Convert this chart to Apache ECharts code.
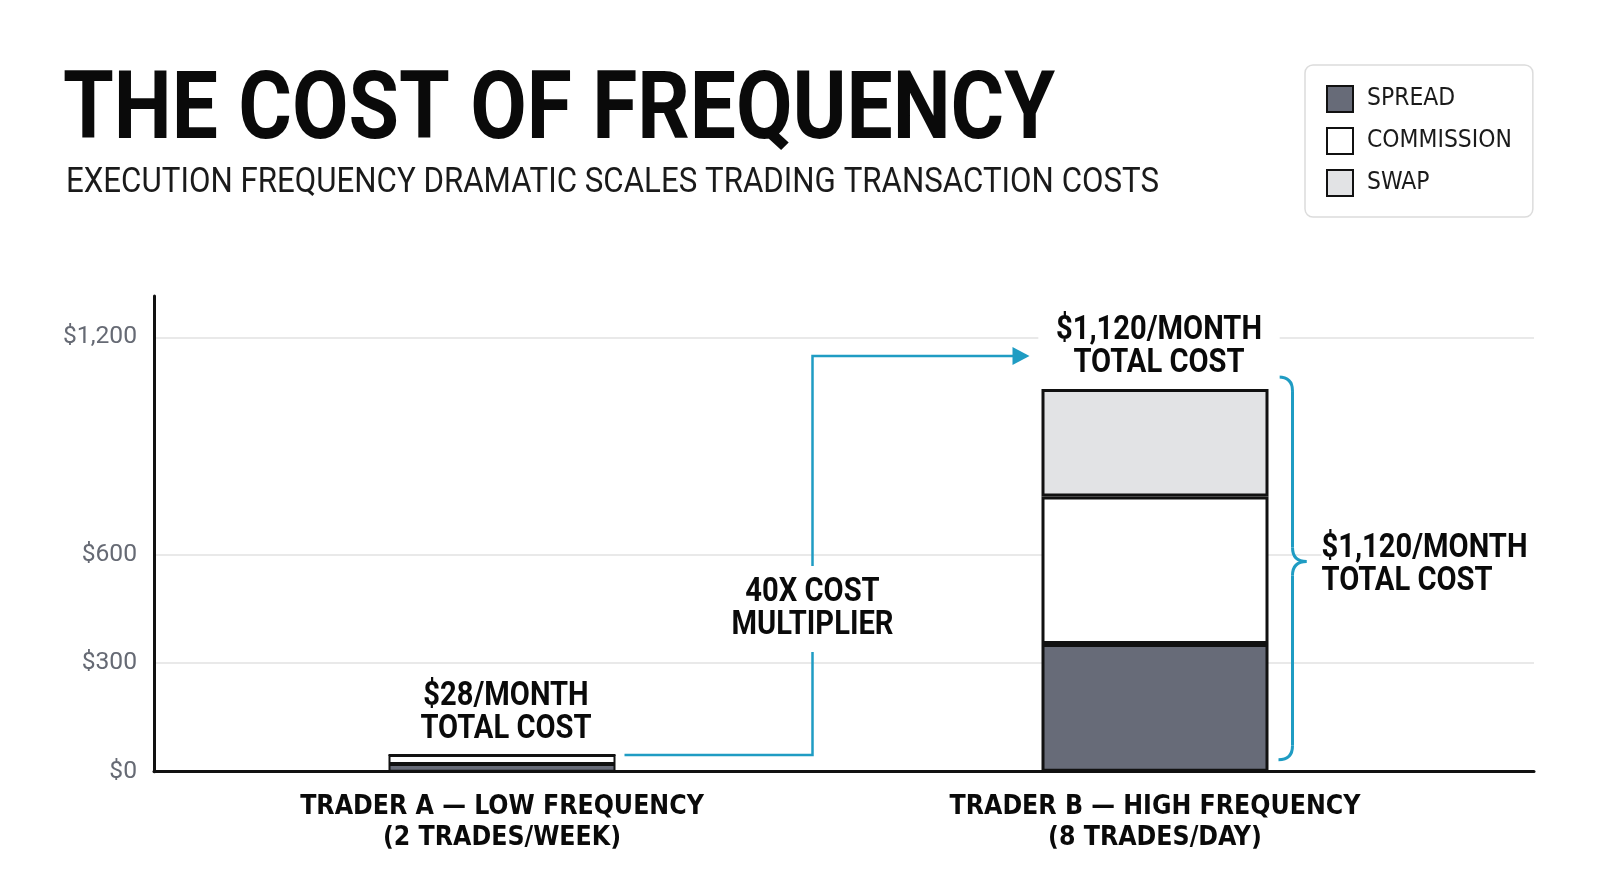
<!DOCTYPE html>
<html><head><meta charset="utf-8">
<script src="https://cdn.jsdelivr.net/npm/echarts@6/dist/echarts.min.js"></script>
<style>html,body{margin:0;padding:0;background:#fff}#c{width:1600px;height:893px}</style>
</head><body><div id="c"></div>
<script>
// ---- data ----
const categories = ['TRADER A — LOW FREQUENCY\n(2 TRADES/WEEK)', 'TRADER B — HIGH FREQUENCY\n(8 TRADES/DAY)'];
const spread = [21, 353];
const commission = [25, 407];
const swap = [0, 297];
const totalLabels = ['$28/MONTH\nTOTAL COST', '$1,120/MONTH\nTOTAL COST'];
const yTickValues = [0, 300, 600, 1200];
const gridValues = [300, 600, 1200];
const yMax = 1314;
const multiplierText = '40X COST\nMULTIPLIER';
const braceText = '$1,120/MONTH\nTOTAL COST';
const titleText = 'THE COST OF FREQUENCY';
const subtitleText = 'EXECUTION FREQUENCY DRAMATIC SCALES TRADING TRANSACTION COSTS';

// ---- styling helpers ----
const ROBOTO = "Roboto, 'DejaVu Sans', sans-serif";
const COND = "'DejaVu Sans Condensed', Roboto, sans-serif";
const CYAN = '#1f9cc3';
const INK = '#0a0a0a';
const BAR_W = 227;

const _ctx = document.createElement('canvas').getContext('2d');
function textWidth(t, font) { _ctx.font = font; return Math.max(...t.split('\n').map(l => _ctx.measureText(l).width)); }
function fitSize(t, family, weight, target) { return 40 * target / textWidth(t, `${weight} 40px ${family}`); }
function fitScale(t, font, target) { return target / textWidth(t, font); }

const xLabelSize = fitSize('TRADER A — LOW FREQUENCY', COND, 'bold', 404);
const legendSize = fitSize('COMMISSION', COND, 'normal', 145);
const yLabelSize = fitSize('$1,200', ROBOTO, 'normal', 74);

const chart = echarts.init(document.getElementById('c'), null, {renderer: 'canvas'});
const barStyle = (c) => ({color: c, borderColor: '#111', borderWidth: 3});
// thinner outline on the very short bar so its fills stay visible
const barData = (vals) => vals.map(v => (v < 60 ? {value: v, itemStyle: {borderWidth: 2}} : v));

const option = {
  animation: false,
  backgroundColor: '#fff',
  legend: {
    orient: 'vertical', left: 1305, top: 65,
    padding: [20, 21, 20, 21], itemWidth: 26, itemHeight: 26, itemGap: 14,
    backgroundColor: '#fff', borderColor: '#dcdcdc', borderWidth: 1.5, borderRadius: 8,
    selectedMode: false,
    textStyle: {fontFamily: COND, fontSize: legendSize, color: '#1a1a1a', padding: [0, 0, 0, 9]},
    data: [
      {name: 'SPREAD', icon: 'rect', itemStyle: {color: '#676b78', borderColor: '#111', borderWidth: 2}},
      {name: 'COMMISSION', icon: 'rect', itemStyle: {color: '#ffffff', borderColor: '#111', borderWidth: 2}},
      {name: 'SWAP', icon: 'rect', itemStyle: {color: '#e2e3e5', borderColor: '#111', borderWidth: 2}}
    ]
  },
  grid: [
    {left: 154, right: 66, top: 296, bottom: 121.3},
    {left: 175.5, right: 118.5, top: 296, bottom: 121.3}
  ],
  xAxis: [
    {gridIndex: 0, type: 'value', min: 0, max: 1,
     axisLine: {show: true, onZero: false, lineStyle: {color: '#111', width: 3}},
     axisLabel: {show: false}, axisTick: {show: false}, splitLine: {show: false}},
    {gridIndex: 1, type: 'category', data: categories,
     axisLine: {show: false}, axisTick: {show: false},
     axisLabel: {interval: 0, margin: 20, fontFamily: COND, fontWeight: 'bold', fontSize: xLabelSize, lineHeight: 31, color: INK}}
  ],
  yAxis: [
    {gridIndex: 0, type: 'value', min: 0, max: yMax, interval: 300,
     axisLine: {show: true, lineStyle: {color: '#111', width: 3}},
     axisTick: {show: false}, splitLine: {show: false},
     axisLabel: {margin: 17, fontFamily: ROBOTO, fontSize: yLabelSize, color: '#666a74',
       formatter: v => yTickValues.includes(v) ? '$' + v.toLocaleString('en-US') : ''}},
    {gridIndex: 1, type: 'value', min: 0, max: yMax, show: false}
  ],
  series: [
    {type: 'line', name: 'grid', xAxisIndex: 0, yAxisIndex: 0, data: [[0, 0]], showSymbol: false,
     lineStyle: {opacity: 0}, silent: true, z: 1,
     markLine: {silent: true, z: 0, symbol: ['none', 'none'], label: {show: false},
       lineStyle: {color: '#e2e2e2', width: 1.5, type: 'solid'},
       emphasis: {disabled: true},
       data: gridValues.map(v => ({yAxis: v}))}},
    {type: 'bar', name: 'SPREAD', xAxisIndex: 1, yAxisIndex: 1, stack: 'total', barWidth: BAR_W,
     data: barData(spread), itemStyle: barStyle('#676b78'), z: 10},
    {type: 'bar', name: 'COMMISSION', xAxisIndex: 1, yAxisIndex: 1, stack: 'total', barWidth: BAR_W,
     data: barData(commission), itemStyle: barStyle('#ffffff'), z: 10},
    {type: 'bar', name: 'SWAP', xAxisIndex: 1, yAxisIndex: 1, stack: 'total', barWidth: BAR_W,
     data: barData(swap), itemStyle: barStyle('#e2e3e5'), z: 10}
  ]
};
chart.setOption(option);

// ---- annotations positioned from the data scale ----
const totals = spread.map((s, i) => s + commission[i] + swap[i]);
const tops = categories.map((c, i) => chart.convertToPixel({gridIndex: 1}, [c, totals[i]]));
const base = chart.convertToPixel({gridIndex: 1}, [categories[1], 0]);
const ax = tops[0][0], ay = tops[0][1], bx = tops[1][0], by = tops[1][1], baseY = base[1];

const LABEL_FONT = `bold 33px ${ROBOTO}`;
const labelScale = fitScale('$1,120/MONTH', LABEL_FONT, 206);
const titleFont = `bold 94px ${ROBOTO}`;
const subFont = `normal 35px ${ROBOTO}`;

const startX = ax + BAR_W / 2 + 9;
const midX = (ax + bx) / 2 - 16;
const arrowY = by - 33;
const tipX = bx - BAR_W / 2 - 12;

const bTop = by - 12, bBot = baseY - 12;
const bx0 = bx + BAR_W / 2 + 10, bxv = bx0 + 14, bTip = bxv + 14;
const bMid = bTop + (bBot - bTop) * 0.482;
const r = 14;
const braceStyle = {stroke: CYAN, lineWidth: 3, fill: null};

const elements = [
  {type: 'text', x: 63, y: 114.5, scaleX: fitScale(titleText, titleFont, 992), z: 100,
   style: {text: titleText, font: titleFont, fill: INK, align: 'left', verticalAlign: 'middle'}},
  {type: 'text', x: 66, y: 183, scaleX: fitScale(subtitleText, subFont, 1093), z: 100,
   style: {text: subtitleText, font: subFont, fill: '#1a1a1a', align: 'left', verticalAlign: 'middle'}},
  {type: 'polyline', z: 50, silent: true,
   shape: {points: [[startX, ay], [midX, ay], [midX, arrowY], [tipX - 12, arrowY]]},
   style: {stroke: CYAN, lineWidth: 2.5, fill: null}},
  {type: 'polygon', z: 50, silent: true,
   shape: {points: [[tipX - 17, arrowY - 9], [tipX, arrowY], [tipX - 17, arrowY + 9]]},
   style: {fill: CYAN}},
  {type: 'text', z: 60, silent: true, x: midX, y: ay - 146, scaleX: labelScale,
   style: {text: multiplierText, font: LABEL_FONT, fill: INK, align: 'center', verticalAlign: 'middle',
     lineHeight: 33, backgroundColor: '#fff', padding: [10, 10]}},
  {type: 'bezierCurve', z: 50, silent: true, shape: {x1: bx0, y1: bTop, cpx1: bxv, cpy1: bTop, x2: bxv, y2: bTop + r}, style: braceStyle},
  {type: 'line', z: 50, silent: true, shape: {x1: bxv, y1: bTop + r, x2: bxv, y2: bMid - r}, style: braceStyle},
  {type: 'bezierCurve', z: 50, silent: true, shape: {x1: bxv, y1: bMid - r, cpx1: bxv, cpy1: bMid, x2: bTip, y2: bMid}, style: braceStyle},
  {type: 'bezierCurve', z: 50, silent: true, shape: {x1: bTip, y1: bMid, cpx1: bxv, cpy1: bMid, x2: bxv, y2: bMid + r}, style: braceStyle},
  {type: 'line', z: 50, silent: true, shape: {x1: bxv, y1: bMid + r, x2: bxv, y2: bBot - r}, style: braceStyle},
  {type: 'bezierCurve', z: 50, silent: true, shape: {x1: bxv, y1: bBot - r, cpx1: bxv, cpy1: bBot, x2: bx0, y2: bBot}, style: braceStyle},
  {type: 'text', z: 60, silent: true, x: bTip + 15, y: bMid + 4, scaleX: labelScale,
   style: {text: braceText, font: LABEL_FONT, fill: INK, align: 'left', verticalAlign: 'middle',
     lineHeight: 33, backgroundColor: '#fff', padding: [6, 10, 6, 0]}}
];
tops.forEach((p, i) => {
  elements.push({type: 'text', z: 60, silent: true, x: p[0] + 4, y: p[1] - 42, scaleX: labelScale,
    style: {text: totalLabels[i], font: LABEL_FONT, fill: INK, align: 'center', verticalAlign: 'middle',
      lineHeight: 33, backgroundColor: '#fff', padding: [0, 20]}});
});
chart.setOption({graphic: elements});
</script>
</body></html>
